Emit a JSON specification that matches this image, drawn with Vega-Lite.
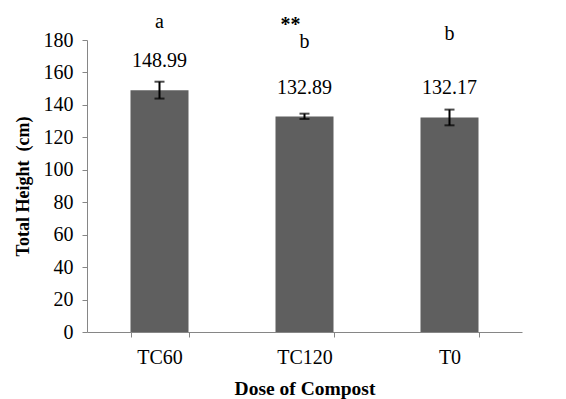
{
  "$schema": "https://vega.github.io/schema/vega-lite/v6.json",
  "width": 435,
  "height": 292,
  "autosize": {"type": "none"},
  "padding": {"left": 87, "top": 40, "right": 44, "bottom": 67},
  "background": "white",
  "config": {
    "view": {"stroke": null},
    "font": "Times New Roman",
    "text": {"font": "Times New Roman"},
    "axis": {"labelOverlap": false, "labelFont": "Times New Roman", "titleFont": "Times New Roman"}
  },
  "data": {
    "values": [
      {"dose": "TC60", "height": 148.99, "lo": 143.9, "hi": 154.3, "label": "148.99", "lab_y": 167, "letter": "a", "let_y": 191, "stars": "**"},
      {"dose": "TC120", "height": 132.89, "lo": 131.3, "hi": 134.6, "label": "132.89", "lab_y": 150.5, "letter": "b", "let_y": 178.5, "stars": ""},
      {"dose": "T0", "height": 132.17, "lo": 127.4, "hi": 137.1, "label": "132.17", "lab_y": 150.5, "letter": "b", "let_y": 183.5, "stars": ""}
    ]
  },
  "encoding": {
    "x": {
      "field": "dose", "type": "nominal", "sort": null,
      "scale": {"paddingInner": 0.6, "paddingOuter": 0.3},
      "axis": {
        "title": "Dose of Compost", "labelAngle": 0, "tickBand": "extent",
        "domainColor": "#868686", "tickColor": "#868686", "tickSize": 5,
        "labelFontSize": 20, "labelColor": "black", "labelPadding": 10,
        "titleFontSize": 19.5, "titleFontWeight": "bold", "titleColor": "black", "titlePadding": 12
      }
    },
    "y": {
      "field": "height", "type": "quantitative",
      "scale": {"domain": [0, 180], "nice": false},
      "axis": {
        "title": "Total Height \u00a0(cm)", "values": [0,20,40,60,80,100,120,140,160,180], "grid": false, "labelOverlap": false,
        "domainColor": "#868686", "tickColor": "#868686", "tickSize": 5,
        "labelFontSize": 20, "labelColor": "black", "labelPadding": 9,
        "titleFontSize": 18, "titleFontWeight": "bold", "titleColor": "black", "titlePadding": 11
      }
    }
  },
  "layer": [
    {
      "mark": {"type": "bar", "color": "#5f5f5f"}
    },
    {
      "mark": {"type": "rule", "color": "black", "strokeWidth": 2},
      "encoding": {"y": {"field": "lo", "type": "quantitative"}, "y2": {"field": "hi"}}
    },
    {
      "mark": {"type": "tick", "color": "black", "thickness": 2, "size": 10},
      "encoding": {"y": {"field": "lo", "type": "quantitative"}}
    },
    {
      "mark": {"type": "tick", "color": "black", "thickness": 2, "size": 10},
      "encoding": {"y": {"field": "hi", "type": "quantitative"}}
    },
    {
      "mark": {"type": "text", "fontSize": 20, "color": "black", "baseline": "middle"},
      "encoding": {"y": {"field": "lab_y", "type": "quantitative"}, "text": {"field": "label"}}
    },
    {
      "mark": {"type": "text", "fontSize": 20, "color": "black", "baseline": "middle"},
      "encoding": {"y": {"field": "let_y", "type": "quantitative"}, "text": {"field": "letter"}}
    },
    {
      "mark": {"type": "text", "fontSize": 20, "fontWeight": "bold", "color": "black", "baseline": "middle", "dx": 131, "dy": 3},
      "encoding": {"y": {"field": "let_y", "type": "quantitative"}, "text": {"field": "stars"}}
    }
  ]
}
